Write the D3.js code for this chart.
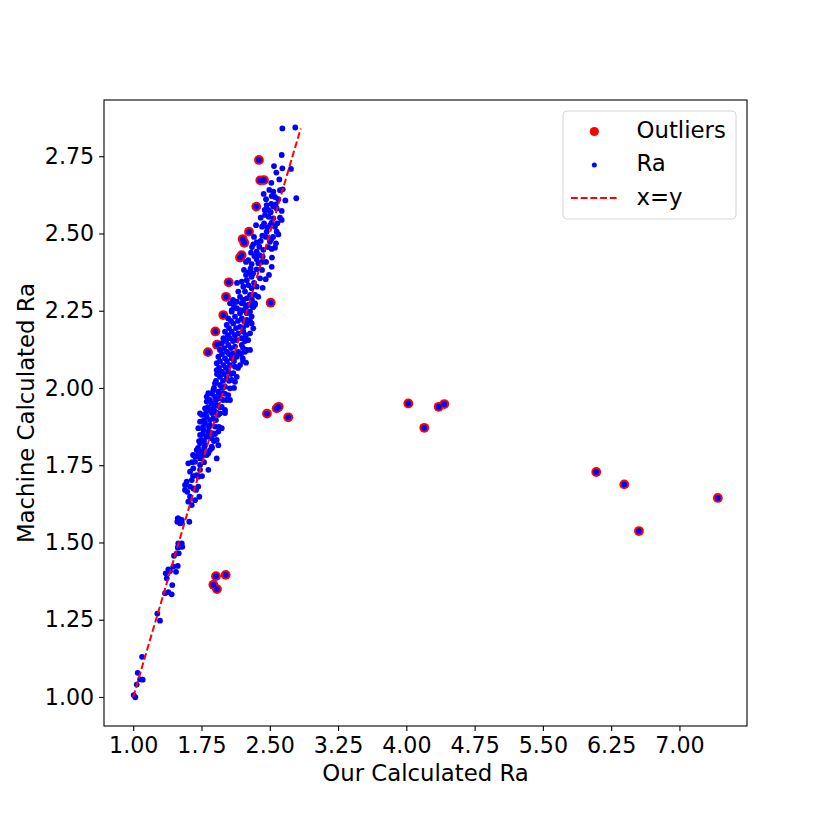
<!DOCTYPE html>
<html><head><meta charset="utf-8">
<script src="https://cdn.jsdelivr.net/npm/d3@7"></script>
<style>body{margin:0;background:#fff}</style>
</head><body><svg id="chart" width="830" height="830"></svg>
<script>
// ---------- data ----------
const xTicks = [1.00,1.75,2.50,3.25,4.00,4.75,5.50,6.25,7.00];
const yTicks = [1.00,1.25,1.50,1.75,2.00,2.25,2.50,2.75];
const xLabel = "Our Calculated Ra";
const yLabel = "Machine Calculated Ra";
const legendLabels = ["Outliers","Ra","x=y"];

// outliers: [our Ra, machine Ra]
const outliers = [
 [2.381,2.738],[2.396,2.672],[2.436,2.673],[2.352,2.587],[2.272,2.506],[2.202,2.482],[2.220,2.470],[2.191,2.430],
 [2.173,2.422],[2.049,2.342],[2.019,2.295],[2.510,2.276],[1.989,2.236],[1.902,2.183],[1.920,2.140],[1.821,2.116],
 [2.469,1.917],[2.576,1.934],[2.598,1.939],[2.703,1.905],[1.909,1.391],[2.016,1.395],[1.880,1.363],[1.920,1.349],
 [4.022,1.950],[4.197,1.871],[4.355,1.939],[4.417,1.948],[6.086,1.728],[6.394,1.688],[7.422,1.644],[6.555,1.537]
];

// remaining Ra points: [our Ra, machine Ra]
const raPoints = [
 [2.638,2.840],[2.780,2.843],[2.631,2.754],[2.546,2.718],[2.638,2.711],[2.733,2.709],[2.572,2.697],[2.605,2.675],[2.517,2.664],[2.495,2.641],
 [2.539,2.635],[2.612,2.640],[2.642,2.643],[2.433,2.628],[2.459,2.611],[2.521,2.621],[2.557,2.618],[2.594,2.611],[2.671,2.607],[2.791,2.614],
 [2.466,2.592],[2.517,2.596],[2.539,2.587],[2.565,2.594],[2.444,2.576],[2.484,2.576],[2.510,2.569],[2.576,2.581],[2.631,2.573],[2.400,2.551],
 [2.448,2.560],[2.488,2.554],[2.539,2.549],[2.612,2.551],[2.631,2.544],[2.583,2.533],[2.521,2.535],[2.437,2.533],[2.415,2.522],[2.473,2.519],
 [2.557,2.522],[2.466,2.506],[2.576,2.506],[2.594,2.497],[2.418,2.493],[2.400,2.476],[2.502,2.473],[2.517,2.482],[2.568,2.468],[2.319,2.465],
 [2.356,2.471],[2.385,2.457],[2.429,2.447],[2.356,2.441],[2.557,2.454],[2.521,2.450],[2.294,2.438],[2.330,2.427],[2.385,2.430],[2.422,2.425],
 [2.264,2.414],[2.356,2.416],[2.524,2.422],[2.301,2.401],[2.374,2.404],[2.290,2.387],[2.264,2.374],[2.356,2.384],[2.521,2.392],[2.239,2.366],
 [2.301,2.360],[2.319,2.371],[2.393,2.355],[2.491,2.366],[2.455,2.352],[2.192,2.344],[2.247,2.349],[2.209,2.328],[2.264,2.333],[2.301,2.323],
 [2.356,2.328],[2.422,2.324],[2.154,2.312],[2.228,2.312],[2.283,2.301],[2.173,2.295],[2.247,2.290],[2.338,2.301],[2.374,2.295],[2.118,2.279],
 [2.192,2.274],[2.264,2.269],[2.137,2.258],[2.209,2.252],[2.319,2.263],[2.338,2.274],[2.082,2.247],[2.173,2.242],[2.247,2.242],[2.283,2.247],
 [2.063,2.274],[2.137,2.279],[2.209,2.274],[2.283,2.269],[2.338,2.269],[2.082,2.252],[2.173,2.252],[2.264,2.247],[2.301,2.231],[2.044,2.225],
 [2.118,2.231],[2.192,2.225],[2.247,2.220],[2.027,2.204],[2.099,2.209],[2.173,2.198],[2.247,2.204],[2.301,2.209],[2.008,2.182],[2.082,2.182],
 [2.154,2.177],[2.209,2.182],[2.283,2.177],[1.990,2.161],[2.063,2.161],[2.137,2.155],[2.192,2.161],[2.264,2.155],[2.319,2.193],[1.972,2.145],
 [2.044,2.139],[2.118,2.134],[2.192,2.139],[2.247,2.123],[1.953,2.123],[2.027,2.117],[2.099,2.112],[2.154,2.117],[2.228,2.117],[1.935,2.101],
 [2.008,2.096],[2.082,2.096],[2.137,2.101],[2.203,2.096],[2.239,2.082],[2.283,2.123],[1.917,2.080],[1.990,2.074],[2.063,2.074],[2.118,2.069],
 [2.173,2.074],[1.917,2.058],[1.972,2.053],[2.044,2.053],[2.099,2.048],[1.953,2.036],[2.027,2.031],[2.082,2.026],[2.137,2.036],[2.118,2.020],
 [1.898,2.015],[1.953,2.010],[2.008,2.004],[2.063,1.999],[1.880,1.993],[1.935,1.988],[1.990,1.983],[2.044,1.977],[1.825,1.983],[1.898,1.972],
 [1.953,1.967],[2.027,1.961],[1.807,1.972],[1.807,1.956],[1.862,1.950],[1.917,1.945],[1.972,1.939],[2.008,1.929],[1.789,1.934],[1.843,1.929],
 [1.898,1.923],[1.953,1.918],[1.752,1.913],[1.807,1.907],[1.880,1.902],[1.935,1.913],[1.734,1.918],[1.734,1.891],[1.789,1.886],[1.843,1.880],
 [1.898,1.875],[1.972,1.870],[1.715,1.870],[1.770,1.864],[1.825,1.859],[1.880,1.853],[1.935,1.859],[1.734,1.848],[1.807,1.842],[1.862,1.837],
 [1.917,1.832],[1.752,1.832],[1.734,1.821],[1.789,1.815],[1.862,1.810],[1.935,1.815],[1.697,1.799],[1.752,1.794],[1.825,1.789],[1.917,1.772],
 [1.679,1.778],[1.734,1.772],[1.807,1.783],[1.843,1.799],[1.605,1.756],[1.679,1.761],[1.734,1.751],[1.660,1.740],[1.734,1.735],[1.825,1.735],
 [1.624,1.729],[1.697,1.718],[1.643,1.702],[1.715,1.713],[1.588,1.697],[1.569,1.686],[1.624,1.681],[1.660,1.675],[1.715,1.681],[1.594,1.664],
 [1.624,1.648],[1.726,1.648],[1.679,1.637],[1.605,1.632],[1.643,1.621],[1.495,1.578],[1.533,1.573],
 [1.489,1.578],[1.506,1.571],[1.514,1.562],[1.484,1.567],[1.533,1.564],[1.616,1.567],[1.495,1.497],[1.533,1.497],[1.514,1.486],[1.539,1.486],
 [1.489,1.484],[1.478,1.465],[1.500,1.465],[1.448,1.457],[1.440,1.422],[1.489,1.424],[1.357,1.400],[1.386,1.413],[1.404,1.408],[1.368,1.384],
 [1.470,1.405],[1.429,1.362],[1.349,1.336],[1.386,1.339],[1.423,1.332],[1.265,1.270],[1.294,1.247],[1.097,1.130],[1.049,1.078],[1.038,1.040],
 [1.075,1.057],[1.104,1.056],[1.023,0.999],[1.005,1.006],
 [2.107,2.262],[2.239,2.262],[2.316,2.262],[2.074,2.217],[2.151,2.217],[2.217,2.217],[2.283,2.217],[2.052,2.194],[2.129,2.194],[2.206,2.194],
 [2.041,2.171],[2.118,2.171],[2.239,2.171],[2.019,2.152],[2.096,2.152],[2.228,2.152],[1.997,2.129],[2.074,2.129],[2.206,2.129],[1.975,2.110],
 [2.052,2.110],[2.184,2.110],[1.953,2.087],[2.030,2.087],[2.107,2.087],[2.206,2.087],[1.942,2.065],[2.019,2.065],[2.151,2.065],[1.920,2.045],
 [1.997,2.045],[2.074,2.045],[1.909,2.023],[1.986,2.023],[2.052,2.023],[1.887,2.000],[1.975,2.000],[2.107,2.000],[1.865,1.981],[1.942,1.981],
 [2.008,1.981],[1.843,1.961],[1.909,1.961],[1.986,1.961],[2.063,1.961],[1.821,1.938],[1.887,1.938],[1.953,1.938],[1.799,1.919],[1.865,1.919],
 [1.920,1.919],[2.008,1.919],[1.778,1.896],[1.843,1.896],[1.909,1.896],[1.767,1.874],[1.832,1.874],[1.942,1.874],[1.767,1.851],[1.832,1.851],
 [1.898,1.851],[1.723,1.828],[1.778,1.828],[1.887,1.828],[1.712,1.806],[1.778,1.806],[1.865,1.806],[1.657,1.783],[1.712,1.783],[1.767,1.783],
 [1.646,1.760],[1.778,1.760],[1.657,1.715],[1.756,1.715],[1.569,1.670],[1.690,1.670],
 [2.349,2.527],[2.503,2.527],[2.327,2.489],[2.459,2.489],[2.536,2.489],[2.305,2.456],[2.481,2.456],[2.239,2.408],[2.415,2.408],[2.459,2.408],
 [2.217,2.382],[2.415,2.382],[2.140,2.340],[2.327,2.340],[2.096,2.285],[2.206,2.285],[2.305,2.285]
];

// reference line x = y (start and end value)
const identityLine = [1.0, 2.84];

// ---------- drawing ----------
const font = "'DejaVu Sans', sans-serif";
const box = {left:104, top:100, right:747, bottom:726};
const svg = d3.select("#chart");
svg.append("rect").attr("width",830).attr("height",830).attr("fill","#fff");

const x = d3.scaleLinear().domain([0.679, 7.742]).range([box.left, box.right]);
const y = d3.scaleLinear().domain([0.906, 2.932]).range([box.bottom, box.top]);

const fmt = d3.format(".2f");
const gx = svg.append("g").attr("transform",`translate(0,${box.bottom})`)
  .call(d3.axisBottom(x).tickValues(xTicks).tickFormat(fmt).tickSize(4.9).tickPadding(6.6));
const gy = svg.append("g").attr("transform",`translate(${box.left},0)`)
  .call(d3.axisLeft(y).tickValues(yTicks).tickFormat(fmt).tickSize(4.9).tickPadding(4.9));
[gx,gy].forEach(g=>{
  g.select(".domain").remove();
  g.selectAll(".tick line").attr("stroke","#000").attr("stroke-width",1.1);
  g.selectAll(".tick text").attr("fill","#000").style("font-family",font).style("font-size","22.2px");
});

// outliers (red, behind)
svg.append("g").selectAll("circle").data(outliers).join("circle")
  .attr("cx",d=>x(d[0])).attr("cy",d=>y(d[1])).attr("r",4.9).attr("fill","#ff0000");

// all Ra points (blue) – includes the outlier points
const allRa = raPoints.concat(outliers);
svg.append("g").selectAll("circle").data(allRa).join("circle")
  .attr("cx",d=>x(d[0])).attr("cy",d=>y(d[1])).attr("r",2.9).attr("fill","#0000ff");

// x = y line
svg.append("line")
  .attr("x1",x(identityLine[0])).attr("y1",y(identityLine[0]))
  .attr("x2",x(identityLine[1])).attr("y2",y(identityLine[1]))
  .attr("stroke","#ff0000").attr("stroke-width",2).attr("stroke-dasharray","6.8,2.9");

// frame
svg.append("rect").attr("x",box.left).attr("y",box.top)
  .attr("width",box.right-box.left).attr("height",box.bottom-box.top)
  .attr("fill","none").attr("stroke","#000").attr("stroke-width",1.1);

// axis labels
svg.append("text").attr("x",(box.left+box.right)/2).attr("y",781)
  .attr("text-anchor","middle").style("font-family",font).style("font-size","22.8px").text(xLabel);
svg.append("text").attr("transform",`translate(34,${(box.top+box.bottom)/2}) rotate(-90)`)
  .attr("text-anchor","middle").style("font-family",font).style("font-size","22.8px").text(yLabel);

// legend
const lg = svg.append("g");
lg.append("rect").attr("x",563).attr("y",111).attr("width",173).attr("height",108).attr("rx",4)
  .attr("fill","#fff").attr("fill-opacity",0.8).attr("stroke","#d6d6d6").attr("stroke-width",1);
const rowsY = [137.5, 171, 204.5];
lg.append("circle").attr("cx",594.3).attr("cy",rowsY[0]-6).attr("r",4.6).attr("fill","#ff0000");
lg.append("circle").attr("cx",594.3).attr("cy",rowsY[1]-6).attr("r",2.5).attr("fill","#0000ff");
lg.append("line").attr("x1",571).attr("x2",618).attr("y1",rowsY[2]-6.5).attr("y2",rowsY[2]-6.5)
  .attr("stroke","#ff0000").attr("stroke-width",2).attr("stroke-dasharray","6.8,2.9");
legendLabels.forEach((t,i)=>{
  lg.append("text").attr("x",636.5).attr("y",rowsY[i]).style("font-family",font).style("font-size","22.8px").text(t);
});
</script></body></html>
